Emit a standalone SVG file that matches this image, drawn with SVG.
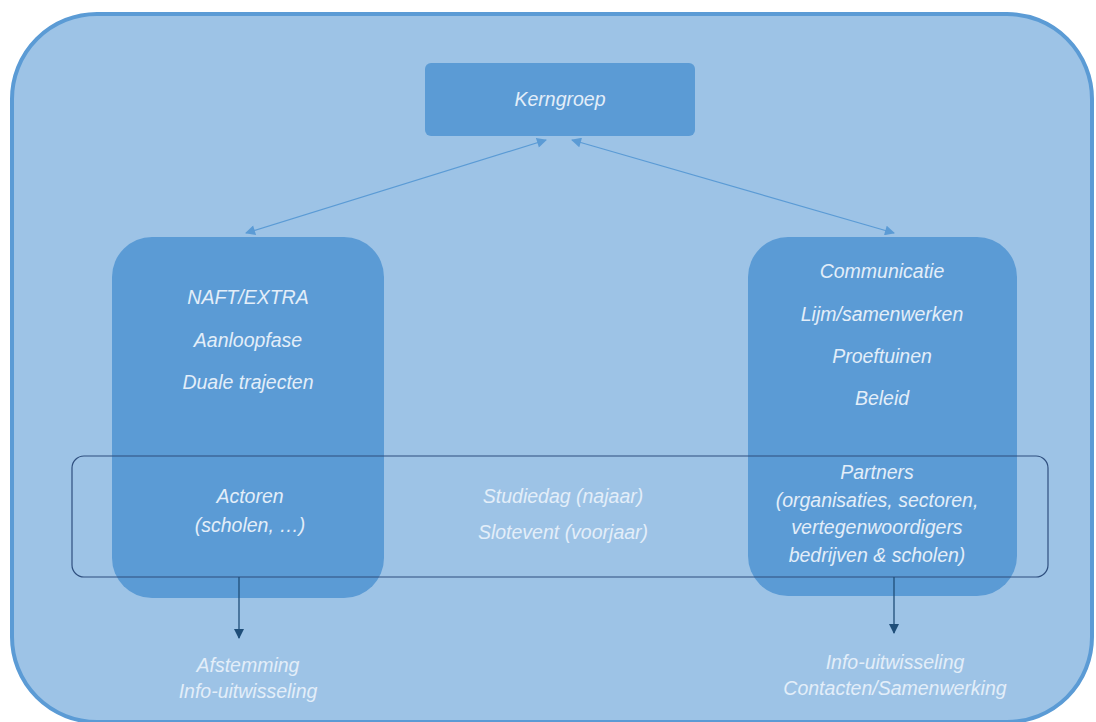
<svg xmlns="http://www.w3.org/2000/svg" width="1096" height="722" viewBox="0 0 1096 722">
<defs>
<style>
.t{font-family:"Liberation Sans",Arial,sans-serif;font-style:italic;font-size:19.5px;fill:#E3EEF9;text-anchor:middle}
.box{fill:#5B9BD5}
.lnk{stroke:#5B9BD5;stroke-width:1.2;fill:none}
.dn{stroke:#1F4E79;stroke-width:1.3;fill:none}
</style>
<marker id="ah" viewBox="0 0 10 10" refX="9" refY="5" markerWidth="11" markerHeight="10" orient="auto-start-reverse" markerUnits="userSpaceOnUse"><path d="M0,0 L10,5 L0,10 z" fill="#5B9BD5"/></marker>
<marker id="ad" viewBox="0 0 10 10" refX="9" refY="5" markerWidth="10" markerHeight="10" orient="auto" markerUnits="userSpaceOnUse"><path d="M0,0 L10,5 L0,10 z" fill="#1F4E79"/></marker>
</defs>
<rect x="0" y="0" width="1096" height="722" fill="#FFFFFF"/>
<g id="frame"><rect x="12" y="14" width="1080" height="708" rx="85" fill="#9DC3E6" stroke="#5B9BD5" stroke-width="4"/></g>
<g id="kerngroep"><rect class="box" x="425" y="63" width="270" height="73" rx="6"/><text class="t" x="560" y="106">Kerngroep</text></g>
<g id="left"><rect class="box" x="112" y="237" width="272" height="361" rx="40"/>
<text class="t" x="248" y="304">NAFT/EXTRA</text>
<text class="t" x="248" y="347">Aanloopfase</text>
<text class="t" x="248" y="389">Duale trajecten</text>
<text class="t" x="250" y="503">Actoren</text>
<text class="t" x="250" y="532">(scholen, …)</text></g>
<g id="right"><rect class="box" x="748" y="237" width="269" height="359" rx="40"/>
<text class="t" x="882" y="278">Communicatie</text>
<text class="t" x="882" y="321">Lijm/samenwerken</text>
<text class="t" x="882" y="363">Proeftuinen</text>
<text class="t" x="882" y="405">Beleid</text>
<text class="t" x="877" y="479">Partners</text>
<text class="t" x="877" y="507">(organisaties, sectoren,</text>
<text class="t" x="877" y="534">vertegenwoordigers</text>
<text class="t" x="877" y="562">bedrijven &amp; scholen)</text></g>
<g id="events"><rect x="72" y="456" width="976" height="121" rx="12" fill="none" stroke="#2F4F7F" stroke-width="1.2"/>
<text class="t" x="563" y="503">Studiedag (najaar)</text>
<text class="t" x="563" y="539">Slotevent (voorjaar)</text></g>
<g id="out-left"><text class="t" x="248" y="672">Afstemming</text><text class="t" x="248" y="698">Info-uitwisseling</text></g>
<g id="out-right"><text class="t" x="895" y="669">Info-uitwisseling</text><text class="t" x="895" y="695">Contacten/Samenwerking</text></g>
<g id="connectors">
<line class="lnk" x1="546" y1="140" x2="246" y2="233" marker-start="url(#ah)" marker-end="url(#ah)"/>
<line class="lnk" x1="572" y1="140" x2="894" y2="233" marker-start="url(#ah)" marker-end="url(#ah)"/>
<line class="dn" x1="239" y1="577" x2="239" y2="638" marker-end="url(#ad)"/>
<line class="dn" x1="894" y1="577" x2="894" y2="633" marker-end="url(#ad)"/>
</g>
</svg>
